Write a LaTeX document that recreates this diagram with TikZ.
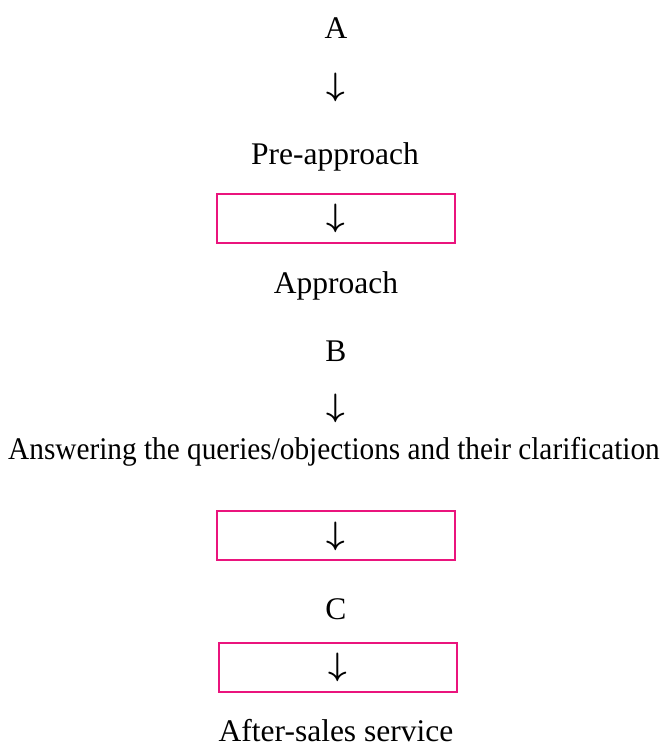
\documentclass[tikz,border=0pt]{standalone}
\usepackage{fontspec}
\setmainfont{Liberation Serif}
\definecolor{boxpink}{RGB}{234,20,125}
\begin{document}
\begin{tikzpicture}[x=1pt,y=-1pt]
\tikzset{lbl/.style={font=\fontsize{31.5}{31.5}\selectfont, inner sep=0pt}}
\tikzset{downlbl/.style={font=\fontsize{24}{24}\selectfont\mathversion{bold}, inner sep=0pt, scale=1.3}}
\tikzset{pinkbox/.style={draw=boxpink, line width=2.5pt}}
\useasboundingbox (0,0) rectangle (665,748);
\node[lbl] (stepA) at (336,28){A};
\node[downlbl] (arr0) at (336,87){$\downarrow$};
\node[lbl] (preapp) at (335,157){Pre-approach};
\draw[pinkbox] (217,194) rectangle (455,243);
\node[downlbl] (arr1) at (336,218){$\downarrow$};
\node[lbl] (app) at (336,286){Approach};
\node[lbl] (stepB) at (336,351){B};
\node[downlbl] (arr2) at (336,408){$\downarrow$};
\node[lbl, xscale=0.93] (answer) at (334,452){Answering the queries/objections and their clarification};
\draw[pinkbox] (217,511) rectangle (455,560);
\node[downlbl] (arr3) at (336,536){$\downarrow$};
\node[lbl] (stepC) at (336,609){C};
\draw[pinkbox] (219,643) rectangle (457,692);
\node[downlbl] (arr4) at (338,667){$\downarrow$};
\node[lbl] (after) at (336,731){After-sales service};
\end{tikzpicture}
\end{document}
